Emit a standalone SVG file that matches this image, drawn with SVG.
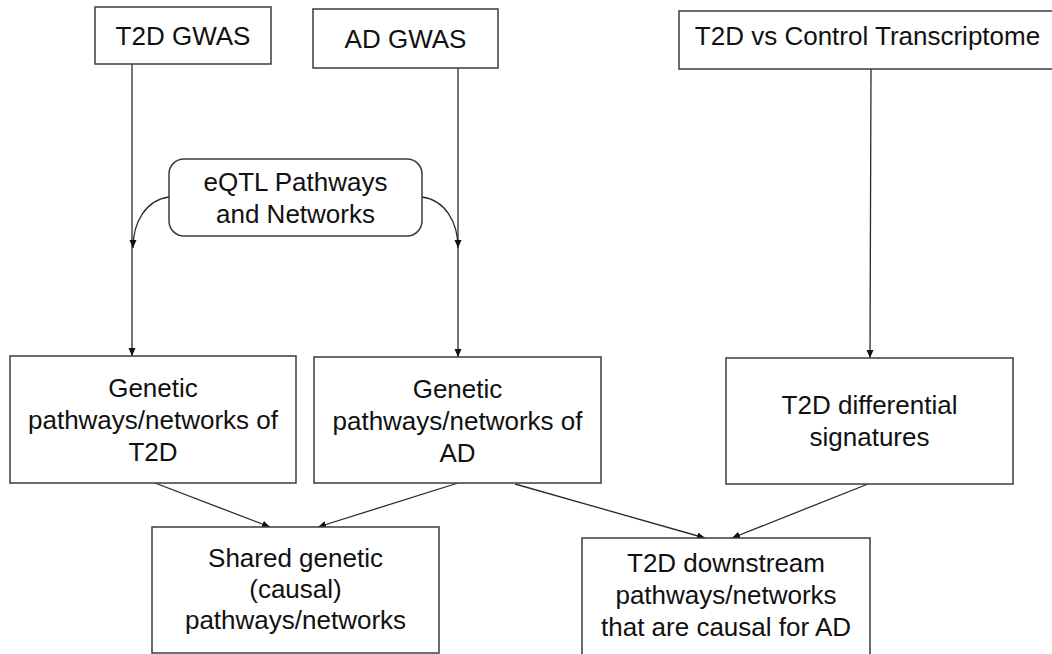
<svg xmlns="http://www.w3.org/2000/svg" width="1052" height="654" viewBox="0 0 1052 654">
<style>
.box{fill:#fff;stroke:#3c3c3c;stroke-width:1.5}
.t{font-family:"Liberation Sans",Arial,sans-serif;font-size:26px;fill:#111;text-anchor:middle}
.c{fill:none;stroke:#2a2a2a;stroke-width:1.3;marker-end:url(#ah)}
</style>
<defs>
<marker id="ah" markerUnits="userSpaceOnUse" markerWidth="9" markerHeight="8" refX="8" refY="3.5" orient="auto">
<path d="M0,0 L8,3.5 L0,7 z" fill="#111"/>
</marker>
</defs>
<rect width="1052" height="654" fill="#fff"/>
<g id="connectors">
<line class="c" x1="132" y1="64" x2="132" y2="356"/>
<line class="c" x1="458" y1="68" x2="458" y2="357"/>
<line class="c" x1="871" y1="69" x2="870" y2="358"/>
<path class="c" d="M169,197 C146,200 133,222 133,248"/>
<path class="c" d="M422,197 C445,200 458,222 458,248"/>
<line class="c" x1="155" y1="483" x2="270" y2="527"/>
<line class="c" x1="458" y1="483" x2="318" y2="527"/>
<line class="c" x1="515" y1="484" x2="705" y2="538"/>
<line class="c" x1="868" y1="484" x2="732" y2="538"/>
</g>
<g id="t2d-gwas">
<rect class="box" x="95" y="7" width="176" height="57"/>
<text class="t" x="183" y="45">T2D GWAS</text>
</g>
<g id="ad-gwas">
<rect class="box" x="313" y="9" width="185" height="59"/>
<text class="t" x="405.5" y="48">AD GWAS</text>
</g>
<g id="t2d-transcriptome">
<rect class="box" x="679" y="11" width="390" height="58"/>
<text class="t" x="867.5" y="45">T2D vs Control Transcriptome</text>
</g>
<g id="eqtl">
<rect class="box" x="169" y="159" width="253" height="77" rx="15" ry="15"/>
<text class="t" x="295.5" y="191">eQTL Pathways</text>
<text class="t" x="295.5" y="223">and Networks</text>
</g>
<g id="genetic-t2d">
<rect class="box" x="10" y="356" width="286" height="127"/>
<text class="t" x="153" y="397">Genetic</text>
<text class="t" x="153" y="429">pathways/networks of</text>
<text class="t" x="153" y="461">T2D</text>
</g>
<g id="genetic-ad">
<rect class="box" x="314" y="357" width="287" height="126"/>
<text class="t" x="457.5" y="398">Genetic</text>
<text class="t" x="457.5" y="430">pathways/networks of</text>
<text class="t" x="457.5" y="462">AD</text>
</g>
<g id="t2d-diff">
<rect class="box" x="726" y="358" width="287" height="126"/>
<text class="t" x="869.5" y="414">T2D differential</text>
<text class="t" x="869.5" y="446">signatures</text>
</g>
<g id="shared">
<rect class="box" x="152" y="527" width="287" height="126"/>
<text class="t" x="295.5" y="567">Shared genetic</text>
<text class="t" x="295.5" y="598">(causal)</text>
<text class="t" x="295.5" y="629">pathways/networks</text>
</g>
<g id="downstream">
<rect class="box" x="582" y="538" width="288" height="130"/>
<text class="t" x="726" y="572">T2D downstream</text>
<text class="t" x="726" y="604">pathways/networks</text>
<text class="t" x="726" y="636">that are causal for AD</text>
</g>
</svg>
